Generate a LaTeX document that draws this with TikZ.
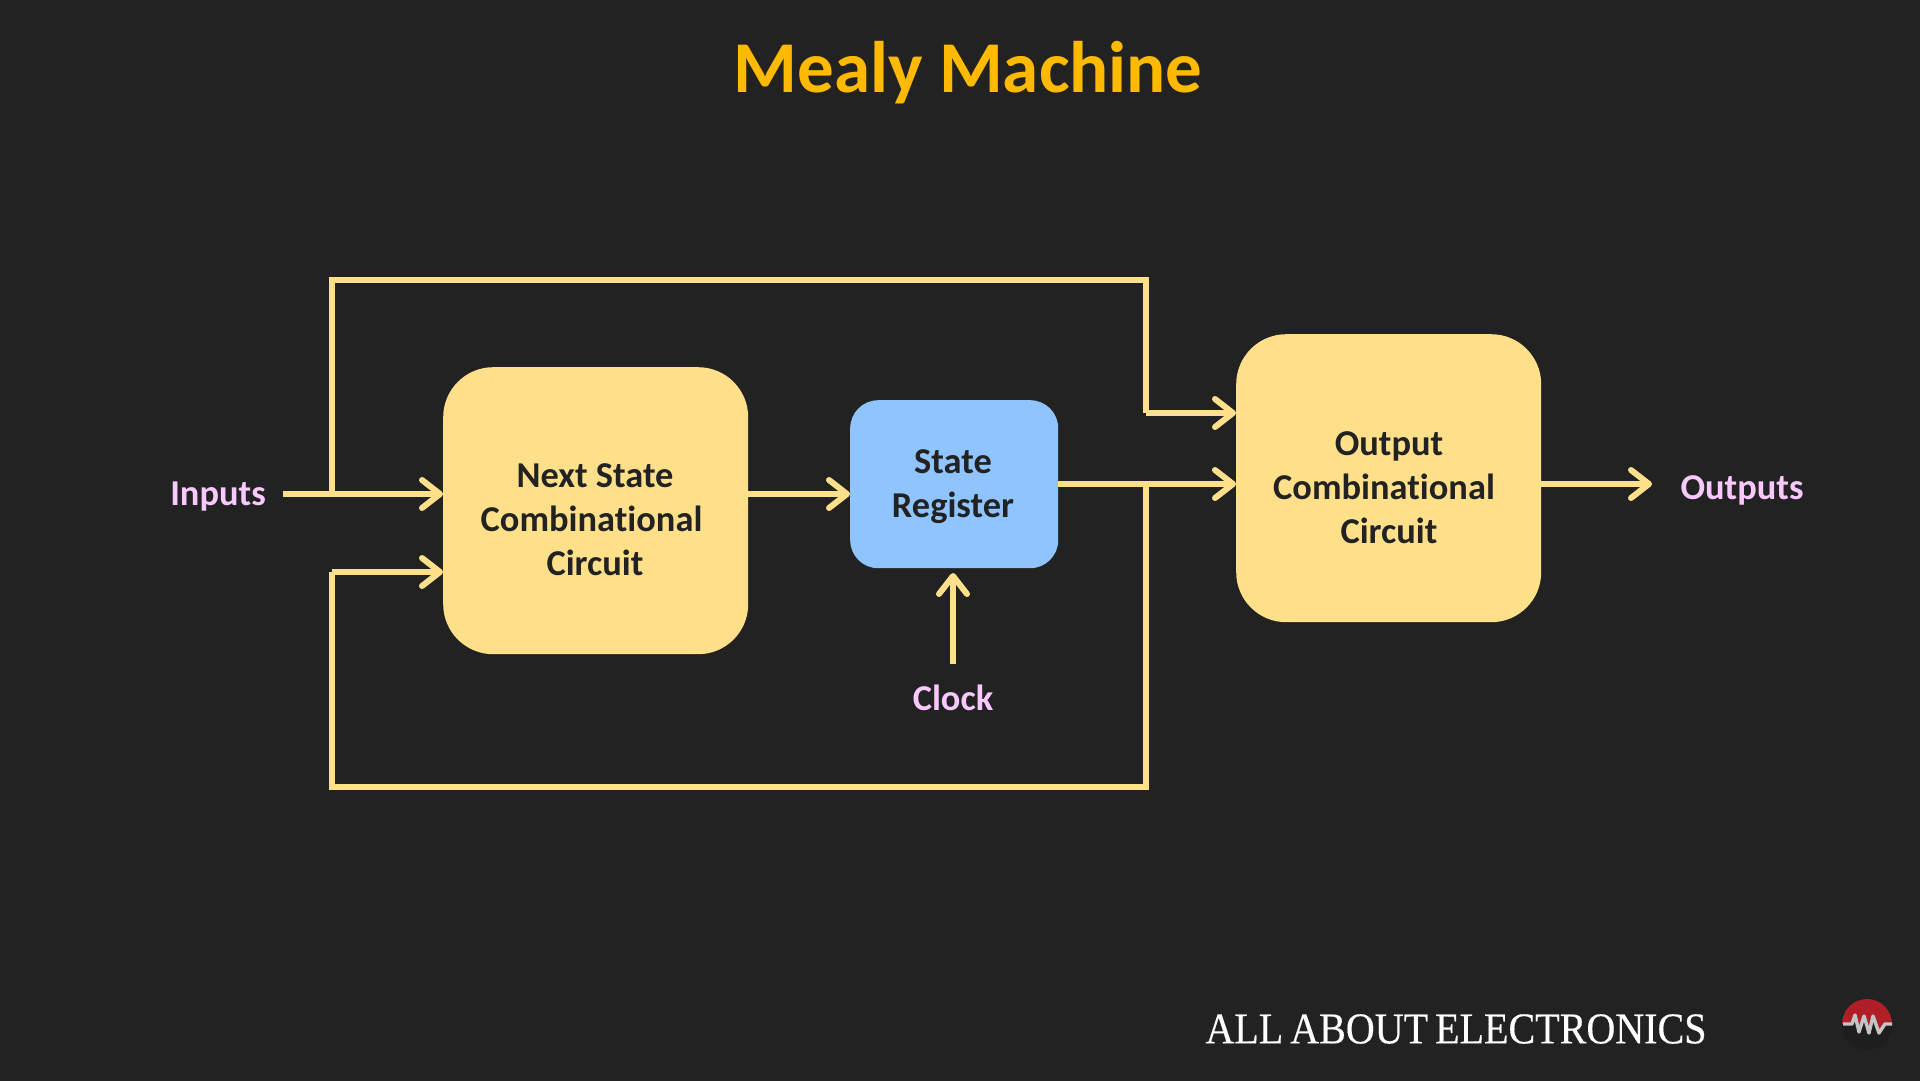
\documentclass[tikz,border=0pt]{standalone}
\usepackage{fontspec}
\setmainfont{Carlito}[BoldFont={Carlito Bold},Ligatures=CommonOff]
\newfontfamily\footfont{Liberation Serif}[FakeStretch=0.91,WordSpace=0.7,FakeBold=0.3]
\usetikzlibrary{arrows.meta}
\definecolor{bgc}{HTML}{222222}
\definecolor{yel}{HTML}{FFE08A}
\definecolor{blu}{HTML}{8FC4FF}
\definecolor{pnk}{HTML}{F9C8FF}
\definecolor{ttl}{HTML}{FFBA00}
\definecolor{ink}{HTML}{222222}
\definecolor{redl}{HTML}{B01E28}
\definecolor{gryl}{HTML}{C4C4C4}
\definecolor{logod}{HTML}{1E1E1E}
\tikzset{
  x=1pt,y=-1pt,
  yelbox/.style={fill=yel,rounded corners=50pt,anchor=north west,inner sep=0pt},
  blubox/.style={yelbox,fill=blu,rounded corners=28pt},
  boxtext/.style={font=\fontsize{36.4}{44}\selectfont\bfseries,text=ink,align=center,inner sep=0pt},
  lab/.style={font=\fontsize{36.4}{44}\selectfont\bfseries,text=pnk,inner sep=0pt},
  conn/.style={draw=yel,line width=6pt},
  arr/.style={conn,-{Straight Barb[length=18pt,width=28pt,line width=6pt,round]}},
}
\begin{document}
\begin{tikzpicture}
\useasboundingbox (0,0) rectangle (1920,1080);
\fill[bgc] (-5,-5) rectangle (1925,1085);
\node[font=\fontsize{73}{78}\selectfont\bfseries,text=ttl,inner sep=0pt] (title) at (968,73) {Mealy Machine};
\node[yelbox,minimum width=305pt,minimum height=287pt] (ns) at (443,367) {};
\node[boxtext] (nst) at (595,520) {Next State\\\mbox{Combinational\kern7pt}\\Circuit};
\node[blubox,minimum width=208pt,minimum height=168pt] (sr) at (850,400) {};
\node[boxtext] (srt) at (953,487) {State\\Register};
\node[yelbox,minimum width=305pt,minimum height=288pt] (oc) at (1236,334) {};
\node[boxtext] (oct) at (1389,488) {Output\\\mbox{Combinational\kern10pt}\\Circuit};
\node[lab] (in) at (218,497) {Inputs};
\node[lab] (out) at (1742,490) {Outputs};
\node[lab] (clk) at (953,698) {Clock};
\node[font=\footfont\fontsize{44}{48}\selectfont,text=white,inner sep=0pt] (foot) at (1456,1029) {ALL ABOUT ELECTRONICS};
\coordinate (inS) at (283,494);
\coordinate (j1) at (332,494);
\coordinate (tl) at (332,280);
\coordinate (tr) at (1146,280);
\coordinate (m1) at (1146,413);
\coordinate (n1) at (1146,484);
\coordinate (br) at (1146,787);
\coordinate (bl) at (332,787);
\coordinate (fb) at (332,572);
\coordinate (clkS) at (953,664);
\coordinate (clkE) at (953,573);
\coordinate (outE) at (1652,484);
\draw[arr] (inS) -- (inS -| ns.west);
\draw[conn,line join=miter] (j1) -- (tl) -- (tr) -- (m1);
\draw[arr] (m1) -- (m1 -| oc.west);
\draw[arr] (sr.east |- n1) -- (n1 -| oc.west);
\draw[conn,line join=miter] (n1) -- (br) -- (bl) -- (fb);
\draw[arr] (fb) -- (fb -| ns.west);
\draw[arr] (ns.east |- inS) -- (inS -| sr.west);
\draw[arr] (clkS) -- (clkE);
\draw[arr] (oc.east |- n1) -- (outE);
% logo
\fill[logod] (1867,1025) circle[radius=25];
\fill[redl] (1842,1024) arc[start angle=180,end angle=360,radius=25] -- (1885,1024) -- (1879,1033) -- (1873,1016) -- (1869,1033) -- (1864,1016) -- (1859,1032) -- (1855,1015) -- (1852,1024) -- cycle;
\draw[gryl,line width=3.4pt,line join=round] (1843,1024) -- (1852,1024) -- (1855,1015) -- (1859,1032) -- (1864,1016) -- (1869,1033) -- (1873,1016) -- (1879,1033) -- (1885,1024) -- (1892,1024);
\end{tikzpicture}
\end{document}
